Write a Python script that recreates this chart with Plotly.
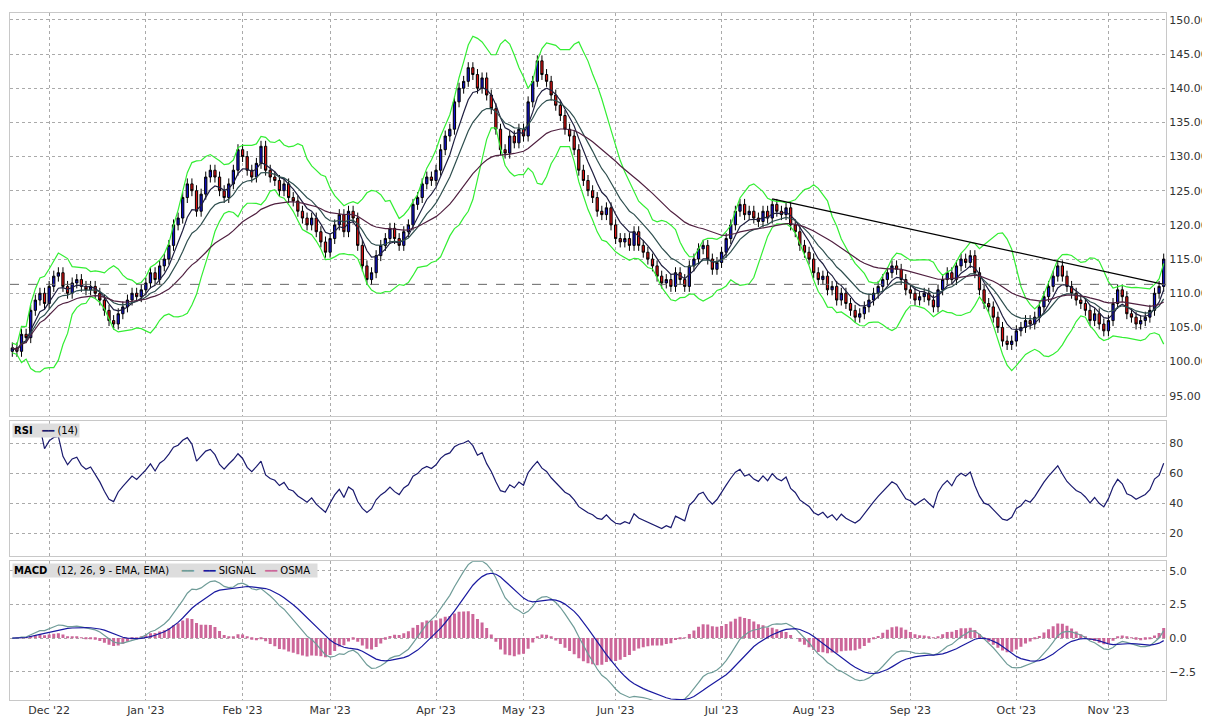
import pandas as pd
import plotly.graph_objects as go
from plotly.subplots import make_subplots

# daily closes, Nov 21 2022 .. Nov 17 2023
closes = [
    102, 101.5, 104, 103.5, 107.5, 109, 110, 108.5,
    111, 112.5, 113, 111, 110, 111.5, 112, 111, 110.5, 111, 110, 109, 107.5, 106, 105.5, 107, 108, 109, 110, 109.5, 110.5,
    111.5, 113, 112, 114, 115, 117, 120, 121, 124, 126, 125, 122, 124.5, 127, 128, 127, 125, 124, 126, 128,
    131, 130, 128, 127, 129, 131.5, 128, 127, 126.5, 125, 126, 124, 123.5, 122, 121, 120, 121, 119, 117.5,
    116, 118, 120, 121.5, 119, 122, 121, 117, 114, 112, 113, 115.5, 117, 118, 119.5, 118, 117, 119, 120, 123, 124, 126, 127,
    126.5, 128, 131, 133, 134, 138, 140, 141, 143, 142, 140, 141.5, 139, 137, 134, 131, 130.5, 133, 132,
    134, 133, 138, 141, 144, 142, 141, 139, 137.5, 136, 134, 133, 131, 128, 126.5, 125, 124, 122, 121.5, 122.5, 120, 118,
    117.5, 118, 117, 119, 117, 116, 115, 114, 112.5, 111.5, 112, 111, 113, 112, 111, 114, 115, 116.5, 117, 115, 113.5,
    114.5, 116, 118, 120, 122, 123, 121.5, 122, 121, 120.5, 122, 121, 123, 122, 121.5, 122.5, 120, 119, 117, 116,
    115, 113, 112, 112.5, 110.5, 111, 109, 110, 108.5, 107.5, 106.5, 107, 108, 109, 110, 111, 112, 113, 114, 113.5, 112, 110.5, 110,
    109, 109.5, 110, 109, 108, 110.5, 112, 113, 112, 114, 115, 114.5, 115.5, 113, 110.5, 108.5, 108, 106.5, 105, 103,
    102.5, 103, 104.5, 105, 106, 105.5, 106.5, 108, 109.5, 111, 112.5, 114, 112.5, 111, 110, 109, 108.5, 107.5, 106, 107, 105.5, 104.5,
    106, 108.5, 110.5, 109.5, 107, 106.5, 105.5, 106, 106.5, 107.5, 110, 111, 115,
]
first_open = 101.5
month_labels = ["Dec '22", "Jan '23", "Feb '23", "Mar '23", "Apr '23", "May '23",
                "Jun '23", "Jul '23", "Aug '23", "Sep '23", "Oct '23", "Nov '23"]
month_start_bars = [8, 29, 50, 69, 92, 111, 131, 154, 174, 195, 218, 238]
trend_bars = [165, 250]
trend_values = [123.8, 111.3]
ref_level = 111.3


def build_frame():
    """
    Price table plus indicators
    """
    df = pd.DataFrame({"close": closes})
    df["open"] = df.close.shift(1).fillna(first_open)
    df["high"] = df[["open", "close"]].max(axis=1) + 0.8
    df["low"] = df[["open", "close"]].min(axis=1) - 0.8
    mid = df.close.rolling(10, min_periods=1).mean()
    sd = df.close.rolling(10, min_periods=2).std().bfill()
    df["bb_up"] = mid + 2 * sd
    df["bb_lo"] = mid - 2 * sd
    df["ema10"] = df.close.ewm(span=6).mean()
    df["ema20"] = df.close.ewm(span=12).mean()
    df["ema50"] = df.close.ewm(span=35).mean()
    delta = df.close.diff()
    gain = delta.clip(lower=0).ewm(alpha=1 / 14).mean()
    loss = (-delta.clip(upper=0)).ewm(alpha=1 / 14).mean()
    df["rsi"] = 100 - 100 / (1 + gain / loss)
    df.loc[:4, "rsi"] = None  # not enough history yet
    df["macd"] = df.close.ewm(span=12).mean() - df.close.ewm(span=26).mean()
    df["signal"] = df.macd.ewm(span=9).mean()
    df["osma"] = df.macd - df.signal
    return df


def plot_chart(df):
    """
    Candles, RSI and MACD panels
    """
    x = df.index
    fig = make_subplots(rows=3, cols=1, shared_xaxes=True)
    fig.add_trace(go.Candlestick(
        x=x, open=df.open, high=df.high, low=df.low, close=df.close,
        increasing=dict(line=dict(color='black', width=1), fillcolor='#1010cc'),
        decreasing=dict(line=dict(color='black', width=1), fillcolor='#dd1111'),
        whiskerwidth=0,
    ), row=1, col=1)
    for col, color in [("bb_up", '#33ee33'), ("bb_lo", '#33ee33'), ("ema10", '#202040'),
                       ("ema20", '#2f4f4f'), ("ema50", '#502040')]:
        fig.add_trace(go.Scatter(x=x, y=df[col], mode='lines',
                                 line=dict(color=color, width=1.2)), row=1, col=1)
    fig.add_trace(go.Scatter(x=trend_bars, y=trend_values, mode='lines',
                             line=dict(color='black', width=1.2)), row=1, col=1)
    fig.add_hline(y=ref_level, line=dict(color='#666666', width=1, dash='dash'), row=1, col=1)

    fig.add_trace(go.Scatter(x=x, y=df.rsi, mode='lines',
                             line=dict(color='#1a1a6e', width=1.2)), row=2, col=1)

    fig.add_trace(go.Bar(x=x, y=df.osma, marker_color='#cc6699',
                         marker_line_width=0), row=3, col=1)
    fig.add_trace(go.Scatter(x=x, y=df.macd, mode='lines',
                             line=dict(color='#6f9c98', width=1.2)), row=3, col=1)
    fig.add_trace(go.Scatter(x=x, y=df.signal, mode='lines',
                             line=dict(color='#1a1aa0', width=1.2)), row=3, col=1)

    axis_style = dict(showgrid=True, gridcolor='#aaaaaa', griddash='dot', showline=True,
                      linecolor='#c8c8c8', mirror=True, zeroline=False, ticks='',
                      tickfont=dict(family='DejaVu Sans', size=11, color='#333333'))
    fig.update_xaxes(**axis_style, tickvals=month_start_bars, ticktext=month_labels,
                     range=[-0.5, len(df) - 0.5], rangeslider_visible=False)
    fig.update_yaxes(**axis_style, side='right')
    fig.update_yaxes(range=[92, 151], tickvals=list(range(95, 151, 5)),
                     tickformat='.2f', row=1, col=1)
    fig.update_yaxes(range=[5, 95], tickvals=[20, 40, 60, 80], row=2, col=1)
    fig.update_yaxes(range=[-4.6, 5.7], tickvals=[-2.5, 0, 2.5, 5], tickformat='.1f', row=3, col=1)

    legend_font = dict(family='DejaVu Sans', size=10, color='black')
    fig.add_annotation(xref='paper', yref='paper', x=0.002, y=0.403, xanchor='left', yanchor='top',
                       text="<b>RSI</b>   <span style='color:#1a1a6e'>━━</span> (14)",
                       showarrow=False, bgcolor='#dddddd', font=legend_font)
    fig.add_annotation(xref='paper', yref='paper', x=0.002, y=0.199, xanchor='left', yanchor='top',
                       text="<b>MACD</b>   (12, 26, 9 - EMA, EMA)    <span style='color:#6f9c98'>━━</span>"
                            "   <span style='color:#1a1aa0'>━━</span> SIGNAL   "
                            "<span style='color:#cc6699'>━━</span> OSMA  ",
                       showarrow=False, bgcolor='#dddddd', font=legend_font)
    fig.update_layout(width=1210, height=717, showlegend=False, bargap=0.35,
                      plot_bgcolor='white', paper_bgcolor='white',
                      margin=dict(l=2, r=52, t=5, b=25),
                      yaxis=dict(domain=[0.413, 1]),
                      yaxis2=dict(domain=[0.21, 0.406]),
                      yaxis3=dict(domain=[0, 0.202]))
    return fig


fig = plot_chart(build_frame())
fig.write_html("out.html")
